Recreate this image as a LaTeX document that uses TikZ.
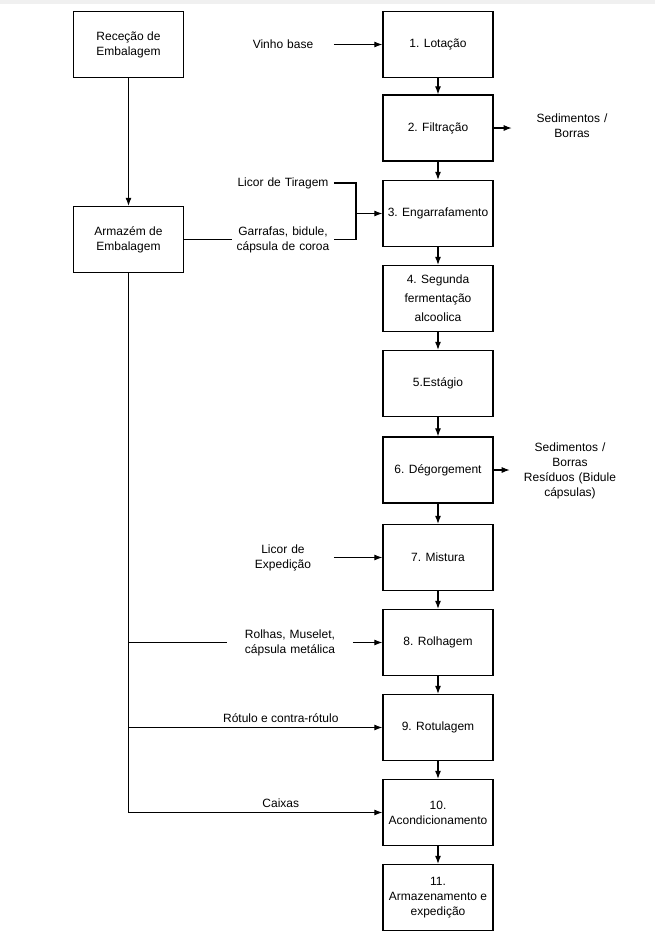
\documentclass[tikz,border=0pt]{standalone}
\usepackage{fontspec}
\setmainfont{Liberation Sans}
\usetikzlibrary{positioning, arrows.meta}

\begin{document}
\begin{tikzpicture}[x=0.75pt, y=-0.75pt, >={Latex[length=6pt,width=4.5pt]}]

        % Définition des styles
        \tikzset{
            etapa/.style={draw, line width=1pt, fill=white, align=center, minimum width=82.5pt, minimum height=49.5pt, inner sep=2pt, font=\fontsize{9}{11.2}\selectfont},
            entrada/.style={align=center, text width=72pt, inner sep=2pt, font=\fontsize{9}{11.2}\selectfont},
            saida/.style={align=center, text width=88pt, inner sep=1pt, font=\fontsize{9}{11.2}\selectfont},
            fluxo/.style={->, line width=0.8pt},
            ligacao/.style={line width=0.8pt}
        }

        % --- Fond ---
        \fill[white] (0,0) rectangle (655,947);
        \fill[gray!12] (0,0) rectangle (655,4);
        \useasboundingbox (0,0) rectangle (655,947);

        % --- Coluna esquerda : embalagem ---
        \node[etapa] (rec) at (128.5, 44.5) {Receção de\\Embalagem};
        \node[etapa] (arm) at (128.5, 239.5) {Armazém de\\Embalagem};

        % --- Coluna direita : etapas ---
        \node[etapa] (b1) at (438, 44.5) {1. Lotação};
        \node[etapa] (b2) at (438, 128) {2. Filtração};
        \node[etapa] (b3) at (438, 213.5) {3. Engarrafamento};
        \node[etapa] (b4) at (438, 298.5) {4. Segunda\\[3pt]fermentação\\[3pt]alcoolica};
        \node[etapa] (b5) at (438, 383.5) {5.Estágio};
        \node[etapa] (b6) at (438, 470) {6. Dégorgement};
        \node[etapa] (b7) at (438, 557.5) {7. Mistura};
        \node[etapa] (b8) at (438, 642.5) {8. Rolhagem};
        \node[etapa] (b9) at (438, 727.5) {9. Rotulagem};
        \node[etapa] (b10) at (438, 812.5) {10.\\Acondicionamento};
        \node[etapa] (b11) at (438, 897.5) {11.\\Armazenamento e\\expedição};

        % --- Entradas ---
        \node[entrada] (vinho) at (283, 44.5) {Vinho base};
        \node[entrada] (tiragem) at (283, 183) {Licor de Tiragem};
        \node[entrada] (garrafas) at (283, 239.5) {Garrafas, bidule,\\cápsula de coroa};
        \node[entrada] (expedicao) at (283, 557.5) {Licor de\\Expedição};
        \node[entrada, inner xsep=11pt] (rolhas) at (290, 642.5) {Rolhas, Muselet,\\cápsula metálica};

        % --- Saídas ---
        \node[saida] (sed1) at (572, 126) {Sedimentos /\\Borras};
        \node[saida] (sed2) at (570, 471) {Sedimentos /\\Borras\\Resíduos (Bidule\\cápsulas)};

        % Junções
        \coordinate (jt) at (356, 213.5);
        \coordinate (j1) at (arm.south |- b8.west);
        \coordinate (j2) at (arm.south |- b9.west);
        \coordinate (j3) at (arm.south |- b10.west);

        % Fluxo principal
        \foreach \a/\b in {b1/b2, b2/b3, b3/b4, b4/b5, b5/b6, b6/b7, b7/b8, b8/b9, b9/b10, b10/b11}
            \draw[fluxo] (\a) -- (\b);
        \draw[fluxo] (rec) -- (arm);

        % Entradas nas etapas
        \draw[fluxo] (vinho.east) -- (b1.west);
        \draw[ligacao] (tiragem.east) -| (jt) |- (garrafas.east);
        \draw[fluxo] (jt) -- (b3.west);
        \draw[ligacao] (arm.east) -- (garrafas.west);
        \draw[fluxo] (expedicao.east) -- (b7.west);

        % Armazém -> etapas finais
        \draw[ligacao] (arm.south) -- (j3);
        \draw[ligacao] (j1) -- (rolhas.west);
        \draw[fluxo] (rolhas.east) -- (b8.west);
        \draw[fluxo] (j2) -- node[above, pos=0.6, font=\fontsize{9}{11.2}\selectfont] (rotulo) {Rótulo e contra-rótulo} (b9.west);
        \draw[fluxo] (j3) -- node[above, pos=0.6, font=\fontsize{9}{11.2}\selectfont] (caixas) {Caixas} (b10.west);

        % Saídas
        \draw[fluxo] (b2.east) -- (sed1.west |- b2.east);
        \draw[fluxo] (b6.east) -- (sed2.west |- b6.east);

\end{tikzpicture}
\end{document}
